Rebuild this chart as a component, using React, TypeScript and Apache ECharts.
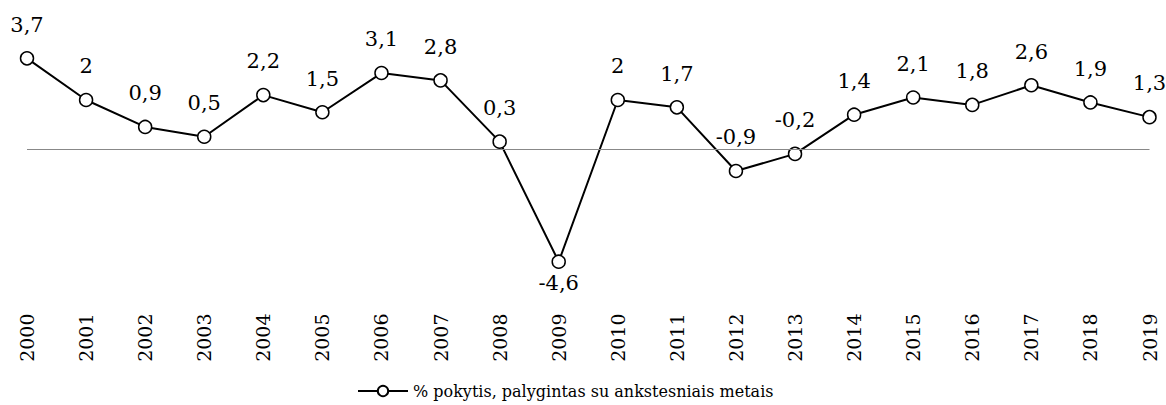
import React, { useEffect, useRef } from "react";
import * as echarts from "echarts";

const years = ["2000","2001","2002","2003","2004","2005","2006","2007","2008","2009","2010","2011","2012","2013","2014","2015","2016","2017","2018","2019"];
const values = [3.7, 2, 0.9, 0.5, 2.2, 1.5, 3.1, 2.8, 0.3, -4.6, 2, 1.7, -0.9, -0.2, 1.4, 2.1, 1.8, 2.6, 1.9, 1.3];
const seriesName = "% pokytis, palygintas su ankstesniais metais";
const belowLabels = ["2009"];

const FONT = "DejaVu Serif";

export default function App() {
  const ref = useRef<HTMLDivElement>(null);
  useEffect(() => {
    if (!ref.current) return;
    const chart = echarts.init(ref.current, undefined, { renderer: "svg" });
    chart.setOption({
      animation: false,
      textStyle: { fontFamily: FONT },
      grid: { left: 27, right: 16.5, top: 51, bottom: 133.5, containLabel: false },
      xAxis: {
        type: "category",
        data: years,
        boundaryGap: false,
        axisLine: { show: false },
        axisTick: { show: false },
        axisLabel: {
          rotate: 90,
          margin: 42,
          color: "#000",
          fontSize: 19,
          fontFamily: FONT,
        },
      },
      yAxis: {
        type: "value",
        min: -5,
        max: 4,
        show: false,
        splitLine: { show: false },
      },
      legend: {
        bottom: 1,
        left: 352,
        itemWidth: 50,
        itemHeight: 13,
        itemGap: 6,
        textStyle: { color: "#000", fontSize: 16, fontFamily: FONT },
        data: [seriesName],
      },
      series: [
        {
          name: seriesName,
          type: "line",
          data: values.map((v, i) => ({
            value: v,
            label: belowLabels.includes(years[i]) ? { position: "bottom", distance: 4 } : undefined,
          })),
          symbol: "circle",
          symbolSize: 13,
          showAllSymbol: true,
          lineStyle: { color: "#000", width: 2 },
          itemStyle: { color: "#fff", borderColor: "#000", borderWidth: 1.5 },
          label: {
            show: true,
            position: "top",
            distance: 16,
            color: "#000",
            fontSize: 21,
            fontFamily: FONT,
            formatter: (p: any) => String(p.value).replace(".", ","),
          },
          markLine: {
            silent: true,
            symbol: "none",
            label: { show: false },
            lineStyle: { color: "#888", width: 1.2, type: "solid" },
            data: [{ yAxis: 0 }],
          },
          z: 3,
        },
      ],
    });
    return () => chart.dispose();
  }, []);
  return <div ref={ref} style={{ width: 1166, height: 405, position: "absolute", left: 0, top: 0 }} />;
}
